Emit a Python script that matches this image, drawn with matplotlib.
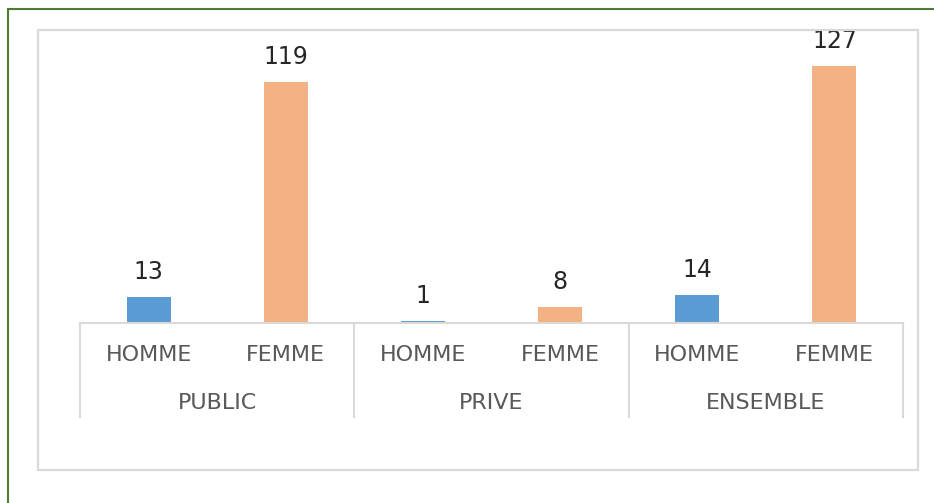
import matplotlib
matplotlib.use("Agg")
import matplotlib.pyplot as plt
from matplotlib.patches import Rectangle
from matplotlib.lines import Line2D

groups = ["PUBLIC", "PRIVE", "ENSEMBLE"]
sexes = ["HOMME", "FEMME"]
values = [13, 119, 1, 8, 14, 127]
colors_map = {"HOMME": "#5B9BD5", "FEMME": "#F4B183"}

W, H = 934, 503
fig = plt.figure(figsize=(W / 100, H / 100), dpi=100)

def px(x0, y0, x1, y1):
    return [x0 / W, 1 - y1 / H, (x1 - x0) / W, (y1 - y0) / H]

# borders
fig.patches.append(Rectangle((8 / W, -0.1), 1.2, 1 - 9 / H + 0.1, transform=fig.transFigure,
                             fill=False, edgecolor="#4E7A34", linewidth=1.5))
fig.patches.append(Rectangle((38 / W, 1 - 470 / H), 880 / W, 440 / H, transform=fig.transFigure,
                             fill=False, edgecolor="#D9D9D9", linewidth=1.6))

ymax = 140
ppu = 2.024
top = 323 - ymax * ppu
ax = fig.add_axes(px(80, top, 903, 323))
ax.set_xlim(-0.5, 5.5)
ax.set_ylim(0, ymax)
for s in ax.spines.values():
    s.set_visible(False)
ax.set_xticks([])
ax.set_yticks([])
ax.patch.set_alpha(0)

xs = list(range(6))
cols = [colors_map[sexes[i % 2]] for i in range(6)]
ax.bar(xs, values, width=0.32, color=cols)
for x, v in zip(xs, values):
    ax.text(x, v + 6.5, str(v), ha="center", va="bottom", fontsize=17, color="#262626")

# axis line and separators
ax.axhline(0, color="#D9D9D9", linewidth=1.5, clip_on=False)
bt = ax.get_xaxis_transform()
sep_drop = (417 - 323) / (323 - top)
for xb in [-0.5, 1.5, 3.5, 5.5]:
    ax.add_line(Line2D([xb, xb], [0, -sep_drop], transform=bt, color="#D9D9D9",
                       linewidth=1.5, clip_on=False))
lab1 = -(355 - 323) / (323 - top)
lab2 = -(403 - 323) / (323 - top)
for i in range(6):
    ax.text(i, lab1, sexes[i % 2], transform=bt, ha="center", va="center",
            fontsize=16, color="#595959")
for g, name in enumerate(groups):
    ax.text(2 * g + 0.5, lab2, name, transform=bt, ha="center", va="center",
            fontsize=16, color="#595959")

fig.savefig("out.png", dpi=100)
